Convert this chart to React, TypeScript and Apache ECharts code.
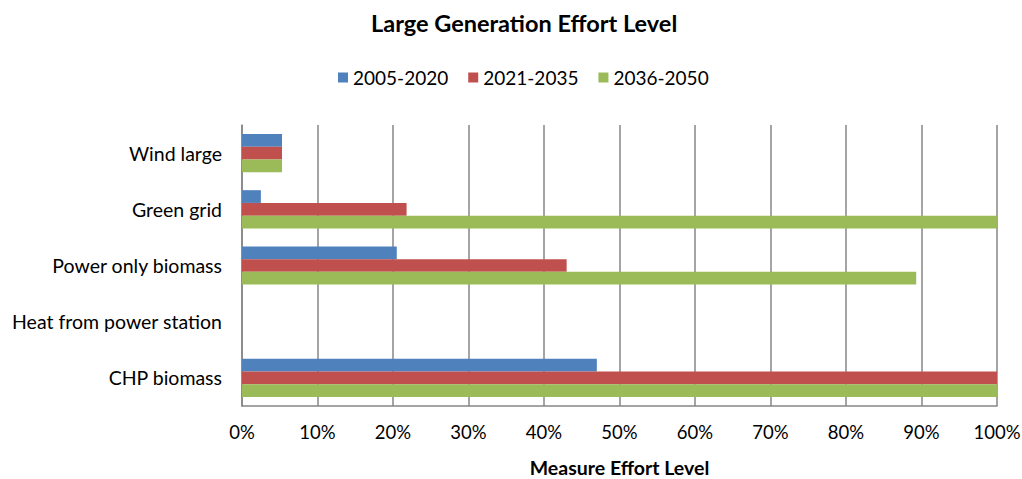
import React, { useEffect, useRef } from "react";
import * as echarts from "echarts";

const categories = ["CHP biomass", "Heat from power station", "Power only biomass", "Green grid", "Wind large"];
const seriesNames = ["2005-2020", "2021-2035", "2036-2050"];
const s2005 = [47.0, 0, 20.5, 2.5, 5.3];
const s2021 = [100, 0, 43.0, 21.8, 5.3];
const s2036 = [100, 0, 89.3, 100, 5.3];
const colors = ["#4F81BD", "#C0504D", "#9BBB59"];
const xTicks = [0, 10, 20, 30, 40, 50, 60, 70, 80, 90, 100];

const FONT = "Lato, 'Open Sans', sans-serif";

export default function App() {
  const ref = useRef<HTMLDivElement>(null);
  useEffect(() => {
    document.body.style.margin = "0";
    const chart = echarts.init(ref.current!, null, { renderer: "svg" });
    const data = [s2005, s2021, s2036];
    chart.setOption({
      animation: false,
      textStyle: { fontFamily: FONT },
      title: {
        text: "Large Generation Effort Level",
        left: 366,
        top: 6,
        textStyle: { fontFamily: FONT, fontSize: 23.5, fontWeight: "bold", color: "#000" },
      },
      legend: {
        data: seriesNames,
        top: 63,
        left: 333,
        itemWidth: 10,
        itemHeight: 10,
        itemGap: 20,
        icon: "rect",
        textStyle: { fontFamily: FONT, fontSize: 19, color: "#000" },
      },
      grid: { left: 242, right: 25, top: 125, bottom: 73, containLabel: false, outerBoundsMode: "none" },
      xAxis: {
        type: "value",
        min: 0,
        max: 100,
        interval: 10,
        name: "Measure Effort Level",
        nameLocation: "middle",
        nameGap: 51,
        nameTextStyle: { fontFamily: FONT, fontSize: 19.5, fontWeight: "bold", color: "#000" },
        axisLine: { show: true, lineStyle: { color: "#868686", width: 1.5 } },
        axisTick: { show: false },
        axisLabel: {
          fontFamily: FONT,
          fontSize: 18.5,
          color: "#000",
          margin: 16,
          formatter: (v: number) => (xTicks.includes(v) ? v + "%" : ""),
        },
        splitLine: { show: true, lineStyle: { color: "#868686", width: 1.5 } },
      },
      yAxis: {
        type: "category",
        data: categories,
        axisLine: { show: true, lineStyle: { color: "#868686", width: 1.5 } },
        axisTick: { show: false },
        axisLabel: { fontFamily: FONT, fontSize: 19.5, color: "#000", margin: 20 },
      },
      series: seriesNames.map((name, i) => ({
        name,
        type: "bar",
        data: data[i],
        barGap: "0%",
        barCategoryGap: "32%",
        itemStyle: { color: colors[i] },
      })),
    });
    return () => chart.dispose();
  }, []);
  return <div ref={ref} style={{ width: 1022, height: 479 }} />;
}
